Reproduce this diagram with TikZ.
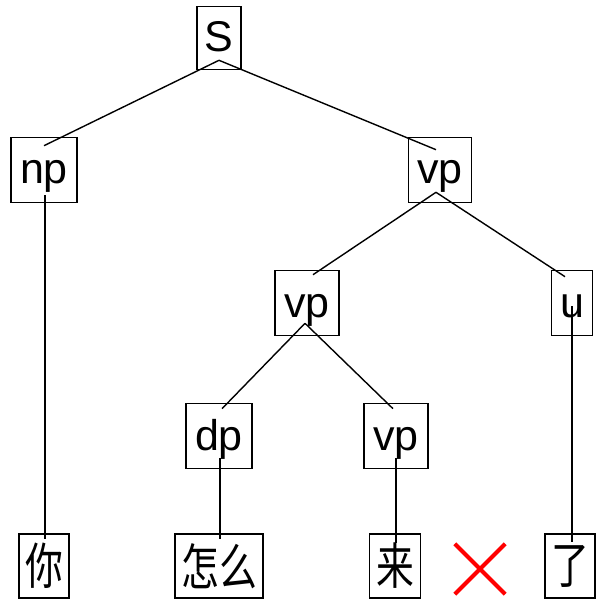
\documentclass[tikz,border=0pt]{standalone}
\usepackage{fontspec}
\setmainfont{Liberation Sans}
\newfontfamily\cjk{Noto Sans CJK SC}
\usepackage{graphicx}
\usepackage{tikz}
\usetikzlibrary{positioning}

\newcommand{\tall}[1]{\scalebox{1.08}[1.42]{#1}}

\begin{document}
\begin{tikzpicture}[
	x=1pt, y=1pt,
	catnode/.style={draw, line width=1.6pt, inner sep=0pt, font=\fontsize{43}{46}\selectfont, text height=36pt, text depth=8pt, minimum height=65pt},
	wordnode/.style={draw, line width=1.6pt, inner sep=0pt, font=\cjk\fontsize{35}{40}\selectfont, minimum height=64pt},
	branch/.style={line width=1.4pt},
	]
	\useasboundingbox (0,0) rectangle (595,-601);
	%Nodes
	\node[catnode, minimum width=44pt, minimum height=63pt] (s)   at (219,-38)  {S};
	\node[catnode, minimum width=66pt] (np)  at (44,-170)  {np};
	\node[catnode, minimum width=63pt] (vp1) at (440,-170) {vp};
	\node[catnode, minimum width=64pt] (vp2) at (307,-303) {vp};
	\node[catnode, minimum width=41pt] (u)   at (572,-303) {u};
	\node[catnode, minimum width=66pt] (dp)  at (219,-436) {dp};
	\node[catnode, minimum width=64pt] (vp3) at (396,-436) {vp};
	
	\node[wordnode, minimum width=50pt] (w1) at (44,-566)  {\tall{你}};
	\node[wordnode, minimum width=88pt] (w2) at (219,-566) {\tall{怎么}};
	\node[wordnode, minimum width=51pt] (w3) at (395,-566) {\tall{来}};
	\node[wordnode, minimum width=50pt] (w4) at (570,-566) {\tall{了}};
	
	%Mark
	\node[minimum size=50pt] (x) at (480,-569) {};
	\draw[red, line width=4pt] (x.north west) -- (x.south east);
	\draw[red, line width=4pt] (x.north east) -- (x.south west);
	
	%Lines
	\draw[branch] ([yshift=10pt]s.south) -- ([yshift=-9pt]np.north);
	\draw[branch] ([yshift=10pt]s.south) -- ([xshift=-4pt,yshift=-13pt]vp1.north);
	\draw[branch] ([xshift=-4pt,yshift=11pt]vp1.south) -- ([xshift=6pt,yshift=-5pt]vp2.north);
	\draw[branch] ([xshift=-4pt,yshift=11pt]vp1.south) -- ([xshift=-7pt,yshift=-7pt]u.north);
	\draw[branch] ([xshift=-2pt,yshift=13pt]vp2.south) -- ([xshift=3pt,yshift=-6pt]dp.north);
	\draw[branch] ([xshift=-2pt,yshift=13pt]vp2.south) -- ([xshift=-3pt,yshift=-6pt]vp3.north);
	\draw[branch] ([xshift=1pt,yshift=8pt]np.south) -- ([xshift=1pt,yshift=-6pt]w1.north);
	\draw[branch] ([xshift=1pt,yshift=11pt]dp.south) -- ([xshift=1pt,yshift=-6pt]w2.north);
	\draw[branch] ([yshift=11pt]vp3.south) -- ([xshift=1pt,yshift=-10pt]w3.north);
	\draw[branch] ([yshift=30pt]u.south) -- ([xshift=2pt,yshift=-9pt]w4.north);
\end{tikzpicture}
\end{document}
